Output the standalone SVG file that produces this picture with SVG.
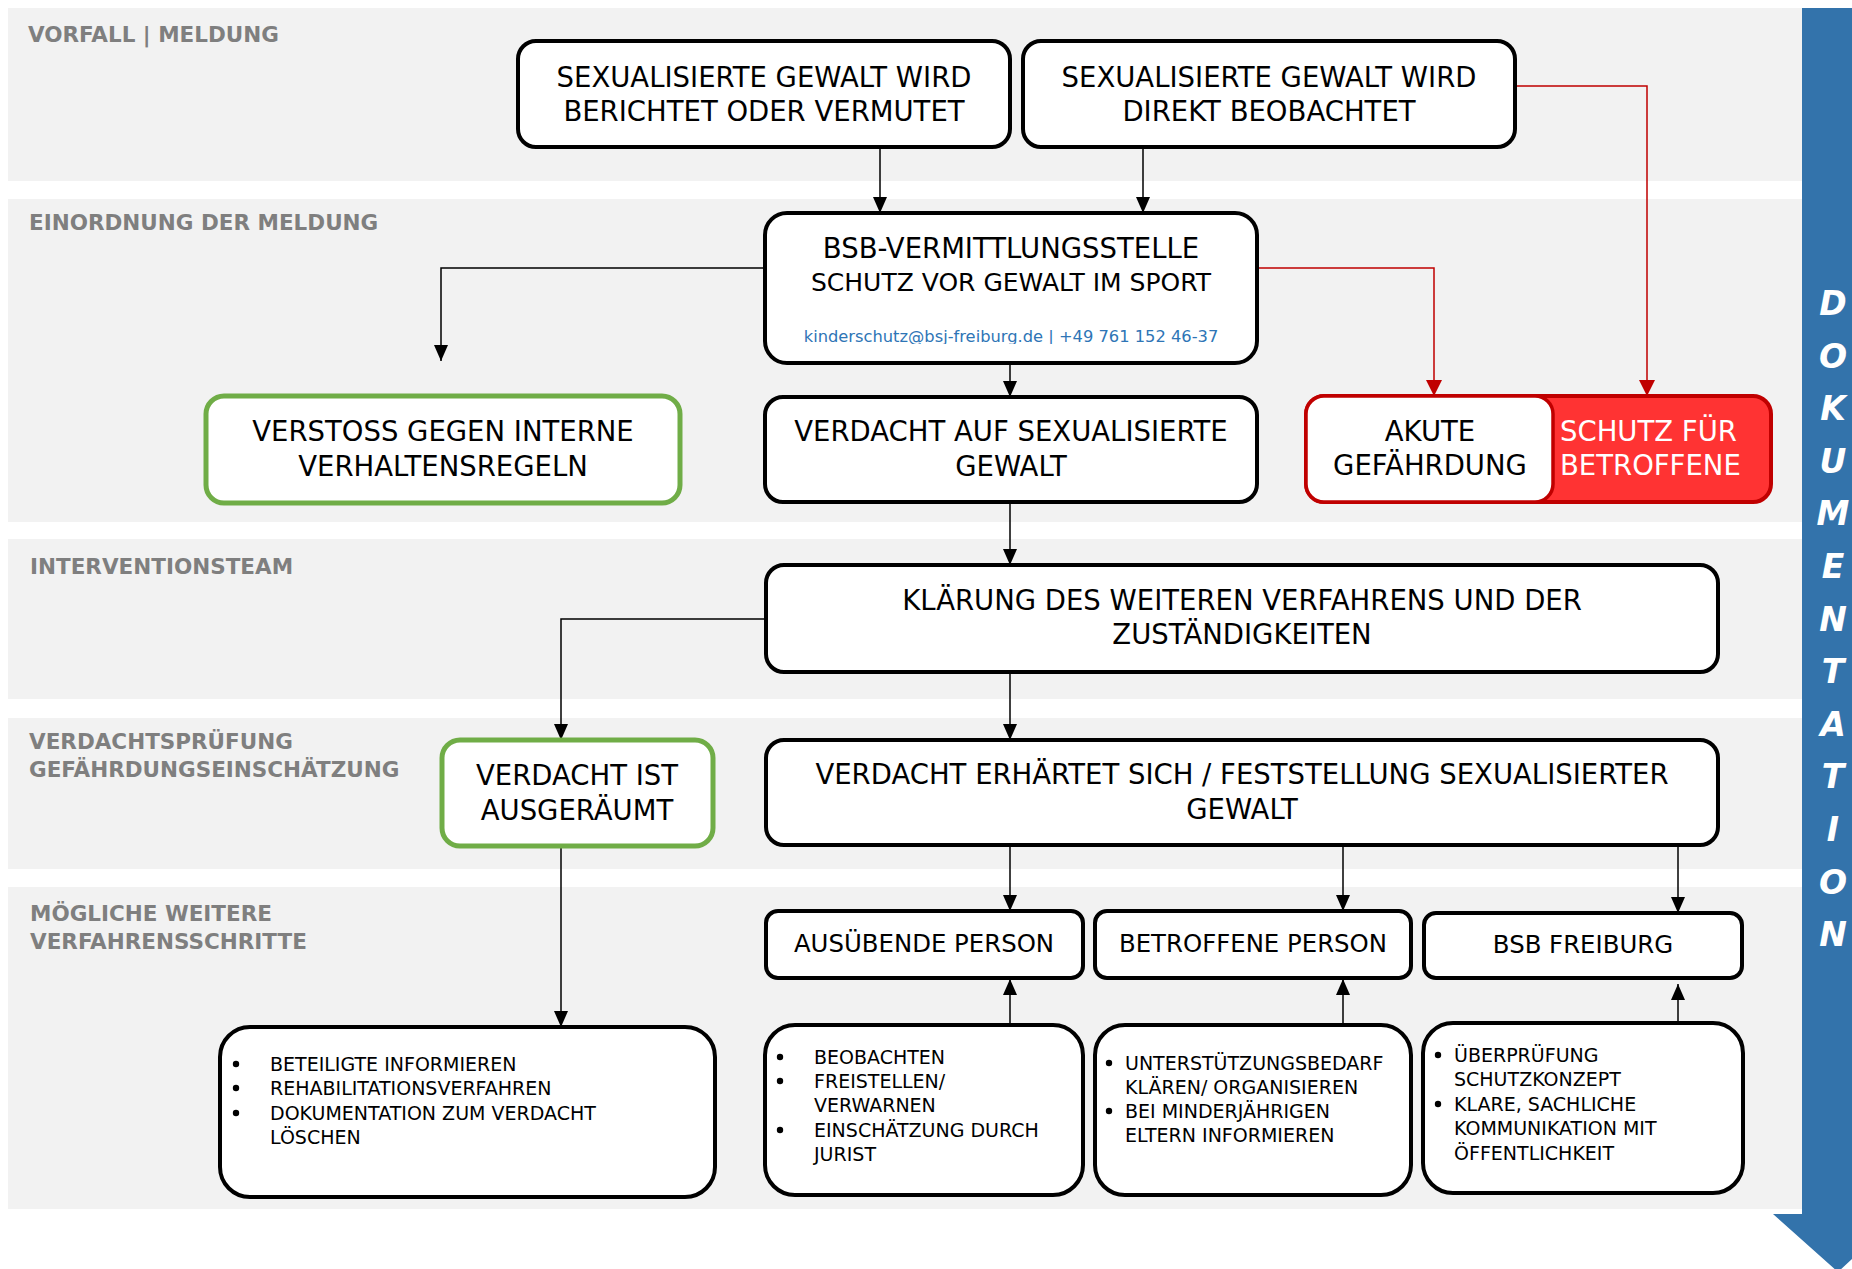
<svg xmlns="http://www.w3.org/2000/svg" width="1852" height="1269" viewBox="0 0 1852 1269">
<defs>
<style>
.band{fill:#f2f2f2}
.lbl{font-family:"DejaVu Sans",Verdana,sans-serif;font-weight:bold;font-size:21.5px;fill:#7f7f7f}
.box{fill:#fff;stroke:#000;stroke-width:4}
.gbox{fill:#fff;stroke:#70ad47;stroke-width:5}
.t{font-family:"DejaVu Sans",Verdana,sans-serif;font-size:27.5px;fill:#000;text-anchor:middle}
.t2{font-family:"DejaVu Sans",Verdana,sans-serif;font-size:24.4px;fill:#000;text-anchor:middle}
.b{font-family:"DejaVu Sans",Verdana,sans-serif;font-size:19px;fill:#000}
.em{font-family:"DejaVu Sans",Verdana,sans-serif;font-size:16.3px;fill:#2e75b6;text-anchor:middle}
.doc{font-family:"DejaVu Sans",Verdana,sans-serif;font-weight:bold;font-style:italic;font-size:33px;fill:#fff;text-anchor:middle}
.c{fill:none;stroke:#000;stroke-width:1.5}
.r{fill:none;stroke:#c00000;stroke-width:1.5}
</style>
<marker id="a" viewBox="0 0 16 14" refX="16" refY="7" markerWidth="16" markerHeight="14" markerUnits="userSpaceOnUse" orient="auto">
<path d="M0,0 L16,7 L0,14 z" fill="#000"/>
</marker>
<marker id="ar" viewBox="0 0 16 16" refX="16" refY="8" markerWidth="16" markerHeight="16" markerUnits="userSpaceOnUse" orient="auto">
<path d="M0,0 L16,8 L0,16 z" fill="#c00000"/>
</marker>
<clipPath id="emclip"><rect x="760" y="320" width="500" height="24"/></clipPath>
</defs>

<g id="bands">
<rect class="band" x="8" y="8" width="1800" height="173"/>
<rect class="band" x="8" y="199" width="1800" height="323"/>
<rect class="band" x="8" y="539" width="1800" height="160"/>
<rect class="band" x="8" y="718" width="1800" height="151"/>
<rect class="band" x="8" y="887" width="1800" height="322"/>
<text class="lbl" x="28" y="42">VORFALL | MELDUNG</text>
<text class="lbl" x="29" y="230">EINORDNUNG DER MELDUNG</text>
<text class="lbl" x="30" y="574">INTERVENTIONSTEAM</text>
<text class="lbl" x="29" y="749">VERDACHTSPRÜFUNG</text>
<text class="lbl" x="29" y="777">GEFÄHRDUNGSEINSCHÄTZUNG</text>
<text class="lbl" x="30" y="921">MÖGLICHE WEITERE</text>
<text class="lbl" x="30" y="949">VERFAHRENSSCHRITTE</text>
</g>

<g id="dokumentation">
<polygon points="1802,8 1880,8 1880,1214 1900,1214 1838,1272 1773,1214 1802,1214" fill="#3373ab"/>
<text class="doc" x="1833" y="315">D</text>
<text class="doc" x="1833" y="368">O</text>
<text class="doc" x="1833" y="420">K</text>
<text class="doc" x="1833" y="473">U</text>
<text class="doc" x="1833" y="525">M</text>
<text class="doc" x="1833" y="578">E</text>
<text class="doc" x="1833" y="631">N</text>
<text class="doc" x="1833" y="683">T</text>
<text class="doc" x="1833" y="736">A</text>
<text class="doc" x="1833" y="788">T</text>
<text class="doc" x="1833" y="841">I</text>
<text class="doc" x="1833" y="894">O</text>
<text class="doc" x="1833" y="946">N</text>
</g>

<g id="connectors">
<path class="c" d="M880,147 V213" marker-end="url(#a)"/>
<path class="c" d="M1143,147 V213" marker-end="url(#a)"/>
<path class="r" d="M1515,86 H1647 V396" marker-end="url(#ar)"/>
<path class="r" d="M1257,268 H1434 V396" marker-end="url(#ar)"/>
<path class="c" d="M765,268 H441 V361" marker-end="url(#a)"/>
<path class="c" d="M1010,363 V397" marker-end="url(#a)"/>
<path class="c" d="M1010,502 V565" marker-end="url(#a)"/>
<path class="c" d="M766,619 H561 V740" marker-end="url(#a)"/>
<path class="c" d="M1010,672 V740" marker-end="url(#a)"/>
<path class="c" d="M1010,845 V911" marker-end="url(#a)"/>
<path class="c" d="M1343,845 V911" marker-end="url(#a)"/>
<path class="c" d="M1678,845 V913" marker-end="url(#a)"/>
<path class="c" d="M561,846 V1027" marker-end="url(#a)"/>
<path class="c" d="M1010,1025 V979" marker-end="url(#a)"/>
<path class="c" d="M1343,1025 V979" marker-end="url(#a)"/>
<path class="c" d="M1678,1023 V984" marker-end="url(#a)"/>
</g>

<g id="box-berichtet">
<rect class="box" x="518" y="41" width="492" height="106" rx="18"/>
<text class="t" x="764" y="87">SEXUALISIERTE GEWALT WIRD</text>
<text class="t" x="764" y="121">BERICHTET ODER VERMUTET</text>
</g>
<g id="box-beobachtet">
<rect class="box" x="1023" y="41" width="492" height="106" rx="18"/>
<text class="t" x="1269" y="87">SEXUALISIERTE GEWALT WIRD</text>
<text class="t" x="1269" y="121">DIREKT BEOBACHTET</text>
</g>
<g id="box-bsb">
<rect class="box" x="765" y="213" width="492" height="150" rx="22"/>
<text class="t" x="1011" y="258">BSB-VERMITTLUNGSSTELLE</text>
<text class="t" x="1011" y="291" style="font-size:25px">SCHUTZ VOR GEWALT IM SPORT</text>
<text class="em" x="1011" y="342" clip-path="url(#emclip)">kinderschutz@bsj-freiburg.de | +49 761 152 46-37</text>
</g>
<g id="box-verstoss">
<rect class="gbox" x="206" y="396" width="474" height="107" rx="18"/>
<text class="t" x="443" y="441">VERSTOSS GEGEN INTERNE</text>
<text class="t" x="443" y="476">VERHALTENSREGELN</text>
</g>
<g id="box-verdacht-auf">
<rect class="box" x="765" y="397" width="492" height="105" rx="18"/>
<text class="t" x="1011" y="441">VERDACHT AUF SEXUALISIERTE</text>
<text class="t" x="1011" y="476">GEWALT</text>
</g>
<g id="box-akute">
<rect x="1306" y="396" width="465" height="106" rx="18" fill="#ff3333" stroke="#c00000" stroke-width="4"/>
<rect x="1306" y="396" width="247" height="106" rx="18" fill="#fff" stroke="#c00000" stroke-width="3.5"/>
<text class="t" x="1430" y="441">AKUTE</text>
<text class="t" x="1430" y="475">GEFÄHRDUNG</text>
<text class="t" x="1560" y="441" style="text-anchor:start;fill:#fff">SCHUTZ FÜR</text>
<text class="t" x="1560" y="475" style="text-anchor:start;fill:#fff">BETROFFENE</text>
</g>
<g id="box-klaerung">
<rect class="box" x="766" y="565" width="952" height="107" rx="18"/>
<text class="t" x="1242" y="610">KLÄRUNG DES WEITEREN VERFAHRENS UND DER</text>
<text class="t" x="1242" y="644">ZUSTÄNDIGKEITEN</text>
</g>
<g id="box-ausgeraeumt">
<rect class="gbox" x="442" y="740" width="271" height="106" rx="18"/>
<text class="t" x="577" y="785">VERDACHT IST</text>
<text class="t" x="577" y="820">AUSGERÄUMT</text>
</g>
<g id="box-erhaertet">
<rect class="box" x="766" y="740" width="952" height="105" rx="18"/>
<text class="t" x="1242" y="784">VERDACHT ERHÄRTET SICH / FESTSTELLUNG SEXUALISIERTER</text>
<text class="t" x="1242" y="819">GEWALT</text>
</g>
<g id="box-ausuebende">
<rect class="box" x="766" y="911" width="317" height="67" rx="12"/>
<text class="t2" x="924" y="952">AUSÜBENDE PERSON</text>
</g>
<g id="box-betroffene">
<rect class="box" x="1095" y="911" width="316" height="67" rx="12"/>
<text class="t2" x="1253" y="952">BETROFFENE PERSON</text>
</g>
<g id="box-bsb-freiburg">
<rect class="box" x="1424" y="913" width="318" height="65" rx="12"/>
<text class="t2" x="1583" y="953">BSB FREIBURG</text>
</g>
<g id="list-ausgeraeumt">
<rect class="box" x="220" y="1027" width="495" height="170" rx="30"/>
<circle cx="236" cy="1064" r="3.2"/><circle cx="236" cy="1088" r="3.2"/><circle cx="236" cy="1113" r="3.2"/>
<text class="b" x="270" y="1071">BETEILIGTE INFORMIEREN</text>
<text class="b" x="270" y="1095">REHABILITATIONSVERFAHREN</text>
<text class="b" x="270" y="1120">DOKUMENTATION ZUM VERDACHT</text>
<text class="b" x="270" y="1144">LÖSCHEN</text>
</g>
<g id="list-ausuebende">
<rect class="box" x="765" y="1025" width="318" height="170" rx="30"/>
<circle cx="780" cy="1057" r="3.2"/><circle cx="780" cy="1081" r="3.2"/><circle cx="780" cy="1130" r="3.2"/>
<text class="b" x="814" y="1064">BEOBACHTEN</text>
<text class="b" x="814" y="1088">FREISTELLEN/</text>
<text class="b" x="814" y="1112">VERWARNEN</text>
<text class="b" x="814" y="1137">EINSCHÄTZUNG DURCH</text>
<text class="b" x="814" y="1161">JURIST</text>
</g>
<g id="list-betroffene">
<rect class="box" x="1095" y="1025" width="316" height="170" rx="30"/>
<circle cx="1109" cy="1063" r="3.2"/><circle cx="1109" cy="1111" r="3.2"/>
<text class="b" x="1125" y="1070">UNTERSTÜTZUNGSBEDARF</text>
<text class="b" x="1125" y="1094">KLÄREN/ ORGANISIEREN</text>
<text class="b" x="1125" y="1118">BEI MINDERJÄHRIGEN</text>
<text class="b" x="1125" y="1142">ELTERN INFORMIEREN</text>
</g>
<g id="list-bsb">
<rect class="box" x="1423" y="1023" width="320" height="170" rx="30"/>
<circle cx="1438" cy="1055" r="3.2"/><circle cx="1438" cy="1104" r="3.2"/>
<text class="b" x="1454" y="1062">ÜBERPRÜFUNG</text>
<text class="b" x="1454" y="1086">SCHUTZKONZEPT</text>
<text class="b" x="1454" y="1111">KLARE, SACHLICHE</text>
<text class="b" x="1454" y="1135">KOMMUNIKATION MIT</text>
<text class="b" x="1454" y="1160">ÖFFENTLICHKEIT</text>
</g>
</svg>
